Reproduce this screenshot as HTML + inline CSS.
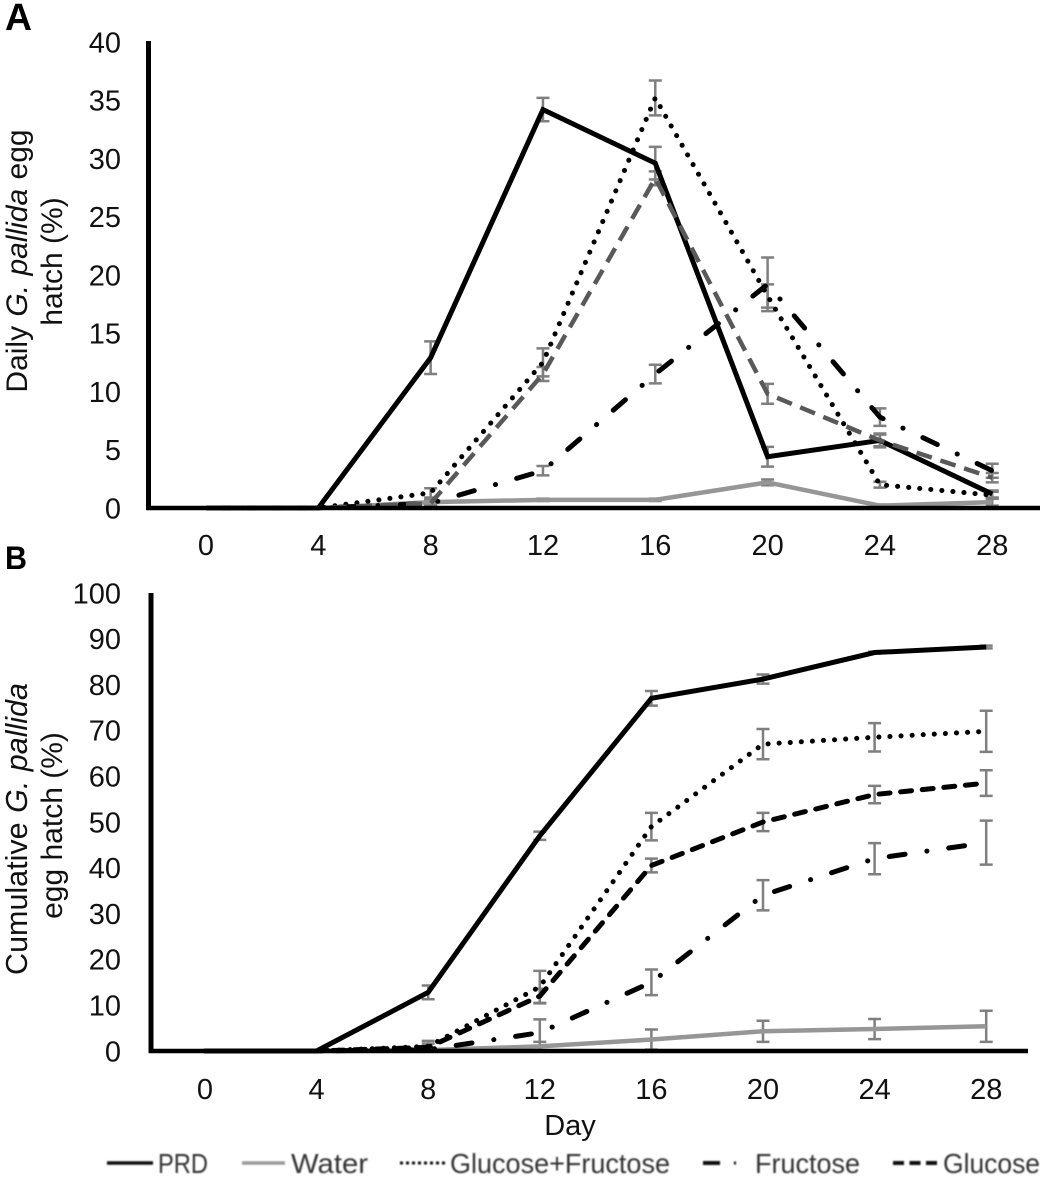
<!DOCTYPE html>
<html lang="en">
<head>
<meta charset="utf-8">
<title>G. pallida egg hatch</title>
<style>
html,body{margin:0;padding:0;background:#fff;}
body{width:1052px;height:1181px;overflow:hidden;}
svg{display:block;font-family:"Liberation Sans",sans-serif;fill:#111;}
</style>
</head>
<body>
<svg id="chart" xmlns="http://www.w3.org/2000/svg" width="1052" height="1181" viewBox="0 0 1052 1181">
  <defs><filter id="soft" x="-5%" y="-50%" width="110%" height="200%"><feGaussianBlur stdDeviation="0.9"/></filter></defs>
  <text x="5" y="30" font-size="38" font-weight="bold" textLength="27" lengthAdjust="spacingAndGlyphs" fill="#000">A</text>
  <text x="5" y="569" font-size="32" font-weight="bold" textLength="22" lengthAdjust="spacingAndGlyphs" fill="#000">B</text>
  <text transform="translate(27,261) rotate(-90)" text-anchor="middle" font-size="30" word-spacing="1">Daily <tspan font-style="italic">G. pallida</tspan> egg</text>
  <text transform="translate(62,261.5) rotate(-90)" text-anchor="middle" font-size="30">hatch (%)</text>
  <text transform="translate(27,829) rotate(-90)" text-anchor="middle" font-size="30.5" word-spacing="1">Cumulative <tspan font-style="italic">G. pallida</tspan></text>
  <text transform="translate(62,825.5) rotate(-90)" text-anchor="middle" font-size="30">egg hatch (%)</text>
  <text x="570" y="1135" text-anchor="middle" font-size="29">Day</text>
  <g filter="url(#soft)" fill="#333">
    <g>
      <line x1="107" y1="1163" x2="153" y2="1163" stroke="#111" stroke-width="3.5"/>
      <text x="158" y="1173" font-size="28" textLength="50" lengthAdjust="spacingAndGlyphs">PRD</text>
    </g>
    <g>
      <line x1="242" y1="1163" x2="285" y2="1163" stroke="#999" stroke-width="3.5"/>
      <text x="291" y="1173" font-size="28" textLength="77" lengthAdjust="spacingAndGlyphs">Water</text>
    </g>
    <g>
      <line x1="400" y1="1163" x2="447" y2="1163" stroke="#111" stroke-width="3" stroke-dasharray="3 3"/>
      <text x="450" y="1173" font-size="28" textLength="220" lengthAdjust="spacingAndGlyphs">Glucose+Fructose</text>
    </g>
    <g>
      <line x1="703" y1="1163" x2="720" y2="1163" stroke="#111" stroke-width="4"/>
      <line x1="734" y1="1163" x2="736" y2="1163" stroke="#111" stroke-width="3"/>
      <text x="755" y="1173" font-size="28" textLength="105" lengthAdjust="spacingAndGlyphs">Fructose</text>
    </g>
    <g>
      <line x1="893" y1="1163" x2="937" y2="1163" stroke="#111" stroke-width="4" stroke-dasharray="11 5.5"/>
      <text x="943" y="1173" font-size="28" textLength="97" lengthAdjust="spacingAndGlyphs">Glucose</text>
    </g>
  </g>
</svg>
<script>
const days = [0, 4, 8, 12, 16, 20, 24, 28];
const dailyTicks = [0, 5, 10, 15, 20, 25, 30, 35, 40];
const cumulativeTicks = [0, 10, 20, 30, 40, 50, 60, 70, 80, 90, 100];

const dailyPrd = [0, 0, 12.9, 34.2, 29.6, 4.4, 5.8, 1.2];
const dailyWater = [0, 0, 0.5, 0.7, 0.7, 2.2, 0.2, 0.5];
const dailyGlucoseFructose = [0, 0, 1.3, 12.5, 35.2, 18.2, 2, 1.1];
const dailyFructose = [0, 0, 0.4, 3.2, 11.5, 19.2, 7.8, 3.2];
const dailyGlucose = [0, 0, 0.4, 11.5, 28.3, 9.8, 5.8, 2.6];

const dailyPrdErr = [0, 0, 1.4, 1, 1.4, 0.85, 0.5, 0.3];
const dailyWaterErr = [0, 0, 0.2, 0.1, 0.1, 0.25, 0.1, 0.3];
const dailyGlucoseFructoseErr = [0, 0, 0.4, 1.2, 1.5, 1, 0.25, 0.3];
const dailyFructoseErr = [0, 0, 0.2, 0.4, 0.8, 2.3, 0.75, 0.6];
const dailyGlucoseErr = [0, 0, 0.3, 0.6, 0.6, 0.85, 0.6, 0.4];

const cumulativePrd = [0, 0, 12.8, 47, 77, 81.2, 87, 88.2];
const cumulativeWater = [0, 0, 0.2, 1, 2.5, 4.3, 4.8, 5.4];
const cumulativeGlucoseFructose = [0, 0, 1, 14, 49, 67, 68.5, 69.8];
const cumulativeFructose = [0, 0, 0.3, 4, 15, 34, 42, 45.5];
const cumulativeGlucose = [0, 0, 0.8, 12, 40.5, 50, 56, 58.5];

const cumulativePrdErr = [0, 0, 1.5, 0.9, 1.6, 1, 0.2, 0.3];
const cumulativeWaterErr = [0, 0, 0.3, 1, 2.2, 2.3, 2.2, 3.4];
const cumulativeGlucoseFructoseErr = [0, 0, 1.2, 3.5, 3, 3.3, 3.1, 4.5];
const cumulativeFructoseErr = [0, 0, 0.4, 2.9, 2.8, 3.3, 3.4, 4.8];
const cumulativeGlucoseErr = [0, 0, 0.8, 1.6, 1.5, 2, 1.9, 2.8];

const svgNS = 'http://www.w3.org/2000/svg';
const root = document.getElementById('chart');

function make(tag, attrs, parent) {
  const el = document.createElementNS(svgNS, tag);
  for (const k in attrs) el.setAttribute(k, attrs[k]);
  parent.appendChild(el);
  return el;
}

function drawPanel(id, xScale, yScale, yTicks, tickBaseline, axisX, axisTop, axisBottom, axisY, axisRight, seriesList) {
  const g = make('g', {}, root);
  
  

  seriesList.forEach(function (s) {
    const errGroup = make('g', { stroke: '#7f7f7f', 'stroke-width': 2.5, fill: 'none' }, g);
    
    
    days.forEach(function (d, i) {
      if (!s.err[i]) return;
      const x = xScale(d);
      const top = yScale(s.values[i] + s.err[i]);
      const bottom = yScale(Math.max(0, s.values[i] - s.err[i]));
      const bar = make('path', { d: 'M' + (x - 6.5) + ' ' + top + 'H' + (x + 6.5) + 'M' + x + ' ' + top + 'V' + bottom + 'M' + (x - 6.5) + ' ' + bottom + 'H' + (x + 6.5) }, errGroup);
      
      
    });
  });

  seriesList.forEach(function (s) {
    const pts = days.map(function (d, i) { return xScale(d) + ',' + yScale(s.values[i]); }).join(' ');
    const line = make('polyline', { points: pts, fill: 'none', stroke: s.color, 'stroke-width': s.width, 'stroke-linejoin': 'miter', 'stroke-dasharray': s.dash || 'none', 'stroke-dashoffset': s.offset || 0, 'stroke-linecap': s.cap || 'butt' }, g);
    
    
  });

  const yAxis = make('line', { x1: axisX, x2: axisX, y1: axisTop, y2: axisBottom, stroke: '#000', 'stroke-width': 5 }, g);
  
  
  const xAxis = make('line', { x1: axisX - 2, x2: axisRight, y1: axisY, y2: axisY, stroke: '#000', 'stroke-width': 4.5 }, g);
  
  

  yTicks.forEach(function (t) {
    const label = make('text', { x: 121, y: yScale(t) + 10.3, 'text-anchor': 'end', 'font-size': 29 }, g);
    label.textContent = t;
    
    
  });
  days.forEach(function (d) {
    const label = make('text', { x: xScale(d), y: tickBaseline, 'text-anchor': 'middle', 'font-size': 29 }, g);
    label.textContent = d;
    
    
  });
}

function xDaily(d) { return 206 + 28.08 * d; }
function yDaily(v) { return 508 - 11.65 * v; }
function xCumulative(d) { return 205 + 27.9 * d; }
function yCumulative(v) { return 1051 - 4.58 * v; }

const dottedDash = '0.1 11';
const dashDot = '16 22 0.1 22';

drawPanel('panel-a', xDaily, yDaily, dailyTicks, 555, 148.5, 41, 510, 508, 1040, [
  { name: 'water', values: dailyWater, err: dailyWaterErr, color: '#969696', width: 4.5 },
  { name: 'glucose-fructose', values: dailyGlucoseFructose, err: dailyGlucoseFructoseErr, color: '#000', width: 5, dash: dottedDash, cap: 'round', offset: 4.2 },
  { name: 'fructose', values: dailyFructose, err: dailyFructoseErr, color: '#000', width: 5, dash: dashDot, cap: 'round', offset: 46.3 },
  { name: 'prd', values: dailyPrd, err: dailyPrdErr, color: '#000', width: 5 },
  { name: 'glucose', values: dailyGlucose, err: dailyGlucoseErr, color: '#595959', width: 4.5, dash: '16 9' }
]);

drawPanel('panel-b', xCumulative, yCumulative, cumulativeTicks, 1099, 151, 593, 1053, 1051, 1028, [
  { name: 'water', values: cumulativeWater, err: cumulativeWaterErr, color: '#969696', width: 4.5 },
  { name: 'glucose-fructose', values: cumulativeGlucoseFructose, err: cumulativeGlucoseFructoseErr, color: '#000', width: 5, dash: dottedDash, cap: 'round', offset: 10.4 },
  { name: 'fructose', values: cumulativeFructose, err: cumulativeFructoseErr, color: '#000', width: 5, dash: dashDot, cap: 'round', offset: 49 },
  { name: 'glucose', values: cumulativeGlucose, err: cumulativeGlucoseErr, color: '#000', width: 5, dash: '11 10.7', cap: 'round', offset: 2.5 },
  { name: 'prd', values: cumulativePrd, err: cumulativePrdErr, color: '#000', width: 5 }
]);
</script>
</body>
</html>
